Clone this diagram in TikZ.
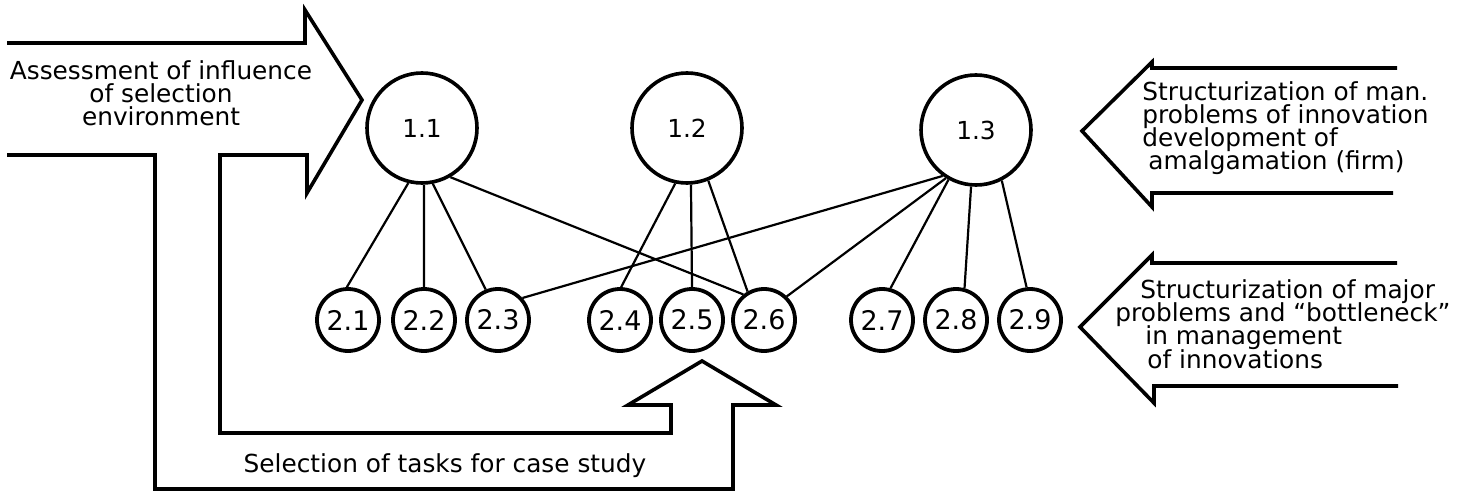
\documentclass[tikz,border=0pt]{standalone}
\usepackage{fontspec}
\setmainfont{DejaVu Sans}
\usetikzlibrary{shapes.geometric}
\lineskiplimit=-100pt
\tikzset{
  frame/.style={line width=1.8pt, line join=miter},
  big/.style={circle, draw, line width=1.8pt, minimum size=55pt, inner sep=0pt},
  small/.style={circle, draw, line width=1.9pt, minimum size=31pt, inner sep=0pt, font=\fontsize{13.5}{13.5}\selectfont},
  conn/.style={line width=1.1pt},
  lbl/.style={font=\fontsize{12.4}{11.6}\selectfont, inner sep=0pt},
}
\begin{document}
\begin{tikzpicture}[x=0.5pt,y=-0.5pt]
\useasboundingbox (0,0) rectangle (1475,497);
% big circles
\node[lbl,big] (n11) at (422,128) {1.1};
\node[lbl,big] (n12) at (687,128) {1.2};
\node[lbl,big] (n13) at (976,130) {1.3};
% small circles
\node[lbl,small] (n21) at (348,320) {2.1};
\node[lbl,small] (n22) at (424,320) {2.2};
\node[lbl,small] (n23) at (498,320) {2.3};
\node[lbl,small] (n24) at (620,320) {2.4};
\node[lbl,small] (n25) at (692,320) {2.5};
\node[lbl,small] (n26) at (764,320) {2.6};
\node[lbl,small] (n27) at (882,320) {2.7};
\node[lbl,small] (n28) at (956,320) {2.8};
\node[lbl,small] (n29) at (1030,320) {2.9};
% connectors
\draw[conn] (n11.256) -- (n21.92);
\draw[conn] (n11.272) -- (n22.90);
\draw[conn] (n11.281) -- (n23.112);
\draw[conn] (n11.300) -- (n26.129);
\draw[conn] (n12.258) -- (n24.88);
\draw[conn] (n12.274) -- (n25.90);
\draw[conn] (n12.292) -- (n26.120);
\draw[conn] (n13.234) -- (n23.42);
\draw[conn] (n13.238) -- (n26.46);
\draw[conn] (n13.241) -- (n27.75);
\draw[conn] (n13.265) -- (n28.75);
\draw[conn] (n13.297) -- (n29.96);
% left arrow and selection frame
\draw[frame] (7,43) -- (305,43) -- (305,10) -- (362,100) -- (307,193) -- (307,155)
  -- (220,155) -- (220,433) -- (671,433) -- (671,405) -- (628,405) -- (702,361)
  -- (776,405) -- (733,405) -- (733,489) -- (155,489) -- (155,155) -- (7,155);
\node[lbl, align=center] (tassess) at (161,93) {Assessment of influence\\of selection\\environment};
\node[lbl] (tselect) at (445,466) {Selection of tasks for case study};
% right arrows
\draw[frame] (1397,68) -- (1152,68) -- (1152,62) -- (1082,131) -- (1152,207) -- (1152,193) -- (1393,193);
\node[lbl, align=left, anchor=west] (tstruct1) at (1142,128) {Structurization of man.\\problems of innovation\\development of\\\hspace{3pt}amalgamation (firm)};
\draw[frame] (1397,263) -- (1152,263) -- (1152,255) -- (1080,327) -- (1154,403) -- (1154,386) -- (1398,386);
\node[lbl, align=left, anchor=west] (tstruct2) at (1115,324) {\hspace{12.5pt}Structurization of major\\problems and “bottleneck”\\\hspace{15pt}in management\\\hspace{16pt}of innovations};
\end{tikzpicture}
\end{document}
